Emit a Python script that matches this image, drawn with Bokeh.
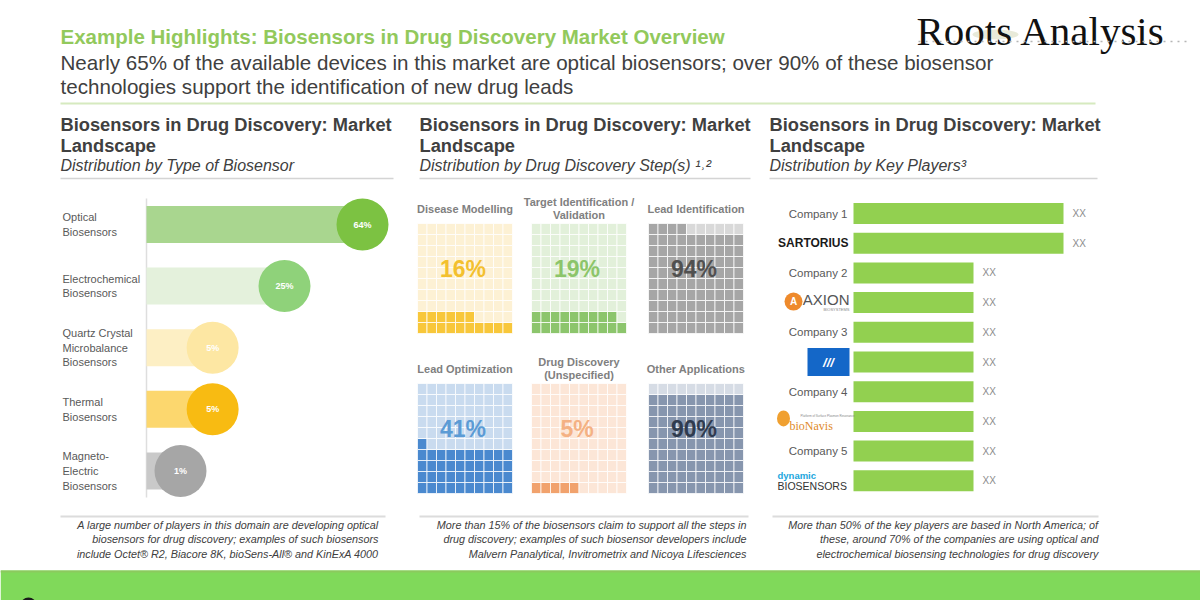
import math
from bokeh.plotting import figure
from bokeh.models import Range1d
from bokeh.embed import file_html
from bokeh.resources import INLINE
from bokeh.core.properties import value

# ---------------- data ----------------
sensor_types = ["Optical\nBiosensors", "Electrochemical\nBiosensors",
                "Quartz Crystal\nMicrobalance\nBiosensors", "Thermal\nBiosensors",
                "Magneto-\nElectric\nBiosensors"]
sensor_share = [64, 25, 5, 5, 1]
sensor_bar_colors = ["#a9d68f", "#e4f1dc", "#fdefc4", "#fcd76e", "#c9c9c9"]
sensor_dot_colors = ["#7cc242", "#8fd27a", "#fde7a3", "#f8bb12", "#a6a6a6"]

steps = ["Disease Modelling", "Target Identification /\nValidation", "Lead Identification",
         "Lead Optimization", "Drug Discovery\n(Unspecified)", "Other Applications"]
step_share = [16, 19, 94, 41, 5, 90]
step_fill = ["#f8c73a", "#8cc56c", "#a6a6a6", "#4a89cf", "#f1a26d", "#8796ae"]
step_empty = ["#fdf1d4", "#e2f0da", "#d9d9d9", "#c9dbef", "#fce6d7", "#d6dce5"]
step_text = ["#f3c02e", "#8cc56a", "#505050", "#5b9bd5", "#f4b183", "#2f3b4f"]

players = ["Company 1", "Sartorius", "Company 2", "Axion BioSystems", "Company 3",
           "Logo", "Company 4", "BioNavis", "Company 5", "Dynamic Biosensors"]
player_counts = [7, 7, 4, 4, 4, 4, 4, 4, 4, 4]
player_value_labels = ["XX"] * 10

SANS = "Liberation Sans"
SERIF = "Liberation Serif"

p = figure(width=1200, height=600, x_range=Range1d(0, 1200), y_range=Range1d(600, 0),
           output_backend="svg", toolbar_location=None, min_border=0,
           outline_line_color=None, x_axis_location=None, y_axis_location=None)
p.grid.visible = False
p.background_fill_color = "white"
p.border_fill_color = "white"


def txt(x, y, s, size, color, font=SANS, style="normal", align="left",
        baseline="middle", lh=1.2):
    p.text(x=[x], y=[y], text=[s], text_font=value(font), text_font_size=size,
           text_color=color, text_font_style=style, text_align=align,
           text_baseline=baseline, text_line_height=lh)


def hline(x0, x1, y, color, w=1.5, dash="solid"):
    p.line(x=[x0, x1], y=[y, y], line_color=color, line_width=w, line_dash=dash)


# ---------------- header ----------------
txt(60, 36, "Example Highlights: Biosensors in Drug Discovery Market Overview", "20.5px",
    "#92c95c", style="bold")
txt(60, 62, "Nearly 65% of the available devices in this market are optical biosensors; over 90% of these biosensor",
    "20.6px", "#404040")
txt(60, 86, "technologies support the identification of new drug leads", "20.6px", "#404040")
hline(60, 1095, 103, "#d6eabf", 2)

# logo
p.ellipse(x=[995], y=[34], width=[46], height=[10], fill_color="#d9dcbf", fill_alpha=0.6,
          line_color=None)
txt(916, 30, "Roots Analysis", "41px", "#111111", font=SERIF, baseline="alphabetic")
hline(918, 1190, 41, "#b5b5b5", 1.5, "2 5")

# panel headers
panel_x = [60, 419, 769]
panel_sub = ["Distribution by Type of Biosensor", "Distribution by Drug Discovery Step(s) ¹˒²",
             "Distribution by Key Players³"]
panel_line_end = [393, 750, 1097]
for px, sub, pe in zip(panel_x, panel_sub, panel_line_end):
    txt(px, 124, "Biosensors in Drug Discovery: Market", "18.3px", "#404040", style="bold")
    txt(px, 145, "Landscape", "18.3px", "#404040", style="bold")
    txt(px, 165, sub, "16px", "#404040", style="italic")
    hline(px, pe, 178, "#d4d4d4", 1.5)

# ---------------- panel 1: type of biosensor ----------------
ax0 = 146
p.line(x=[ax0, ax0], y=[198, 497], line_color="#dedede", line_width=1.5)
row_y = [224 + i * 61.6 for i in range(len(sensor_share))]
cx = [ax0 + 8 + 26 * math.sqrt(v) for v in sensor_share]
p.quad(left=[ax0] * 5, right=cx, top=[y - 18.5 for y in row_y], bottom=[y + 18.5 for y in row_y],
       fill_color=sensor_bar_colors, line_color=None)
p.circle(x=cx, y=row_y, radius=26, fill_color=sensor_dot_colors, line_color=None)
p.text(x=cx, y=row_y, text=[f"{v}%" for v in sensor_share], text_font=value(SANS),
       text_font_size="9px", text_color="white", text_font_style="bold",
       text_align="center", text_baseline="middle")
p.text(x=[62] * 5, y=row_y, text=sensor_types, text_font=value(SANS), text_font_size="11px",
       text_color="#595959", text_align="left", text_baseline="middle", text_line_height=1.22)

# ---------------- panel 2: waffles ----------------
box_x = [417, 531, 648]
box_y = [223, 383]
bw, bh = 95.0, 110.0
cw, ch = bw / 10, bh / 10
for k, (name, pct) in enumerate(zip(steps, step_share)):
    bx = box_x[k % 3]
    by = box_y[k // 3]
    L, R, T, B, C = [], [], [], [], []
    for idx in range(100):
        r = idx // 10          # 0 = bottom row
        c = idx % 10
        L.append(bx + c * cw)
        R.append(bx + (c + 1) * cw)
        B.append(by + bh - r * ch)
        T.append(by + bh - (r + 1) * ch)
        C.append(step_fill[k] if idx < pct else step_empty[k])
    p.quad(left=L, right=R, top=T, bottom=B, fill_color=C, line_color="white",
           line_width=1.0, line_alpha=0.75)
    txt(bx + bw / 2, by - 15, name, "11px", "#808080", style="bold", align="center", lh=1.15)
    txt(bx + bw / 2 - 2, by + 45, f"{pct}%", "23px", step_text[k], style="bold", align="center")

# ---------------- panel 3: key players ----------------
bar_x0 = 853
unit = 30
prow_y = [213 + i * 29.7 for i in range(len(players))]
bar_end = [bar_x0 + v * unit for v in player_counts]
p.quad(left=[bar_x0] * len(players), right=bar_end, top=[y - 10.5 for y in prow_y],
       bottom=[y + 10.5 for y in prow_y], fill_color="#92d050", line_color=None)
p.text(x=[e + 9 for e in bar_end], y=prow_y, text=player_value_labels, text_font=value(SANS),
       text_font_size="10px", text_color="#8c8c8c", text_align="left", text_baseline="middle")
name_idx = [i for i, n in enumerate(players) if n.startswith("Company")]
p.text(x=[847] * len(name_idx), y=[prow_y[i] for i in name_idx],
       text=[players[i] for i in name_idx], text_font=value(SANS), text_font_size="11.5px",
       text_color="#595959", text_align="right", text_baseline="middle")

# logos (approximated with text / shapes)
y = prow_y[1]
txt(848, y, "SARTORIUS", "12px", "#1a1a1a", style="bold", align="right")
y = prow_y[3]
p.circle(x=[793], y=[y - 1], radius=9, fill_color="#ee8a2c", line_color=None)
txt(793, y - 1, "A", "10px", "white", style="bold", align="center")
txt(849, y - 3, "AXION", "15px", "#555555", align="right")
txt(849, y + 7, "BIOSYSTEMS", "4px", "#888888", align="right")
y = prow_y[5]
p.quad(left=[807], right=[849], top=[y - 14], bottom=[y + 14], fill_color="#1467c8",
       line_color=None)
txt(828, y, "///", "13px", "white", style="bold italic", align="center")
y = prow_y[7]
p.ellipse(x=[783], y=[y - 3], width=[13], height=[16], fill_color="#f0a030", line_color=None)
txt(789, y + 5, "bioNavis", "12px", "#e08a2a", font=SERIF, align="left")
txt(800, y - 6, "Platform of Surface Plasmon Resonance", "3px", "#888888", align="left")
y = prow_y[9]
txt(777, y - 5, "dynamic", "9.5px", "#21a6dd", style="bold", align="left")
txt(777, y + 5, "BIOSENSORS", "10.5px", "#333333", align="left")

# ---------------- footnotes ----------------
foot_x1 = [378, 746, 1098]
foot_line = [(60, 385), (419, 748), (772, 1098)]
foot_text = [
    "A large number of players in this domain are developing optical\nbiosensors for drug discovery; examples of such biosensors\ninclude Octet® R2, Biacore 8K, bioSens-All® and KinExA 4000",
    "More than 15% of the biosensors claim to support all the steps in\ndrug discovery; examples of such biosensor developers include\nMalvern Panalytical, Invitrometrix and Nicoya Lifesciences",
    "More than 50% of the key players are based in North America; of\nthese, around 70% of the companies are using optical and\nelectrochemical biosensing technologies for drug discovery",
]
for (a, b), xr, t in zip(foot_line, foot_x1, foot_text):
    hline(a, b, 516, "#dcdcdc", 2)
    txt(xr, 539, t, "10.8px", "#404040", style="italic", align="right", lh=1.2)

# ---------------- bottom band ----------------
p.quad(left=[0], right=[1200], top=[570], bottom=[600], fill_color="#80d95a", line_color=None)
hline(0, 1200, 571, "#8cc95e", 2)
p.circle(x=[28], y=[605], radius=8, fill_color="#1a1a1a", line_color=None)

open("out.html", "w").write(file_html(p, INLINE))
